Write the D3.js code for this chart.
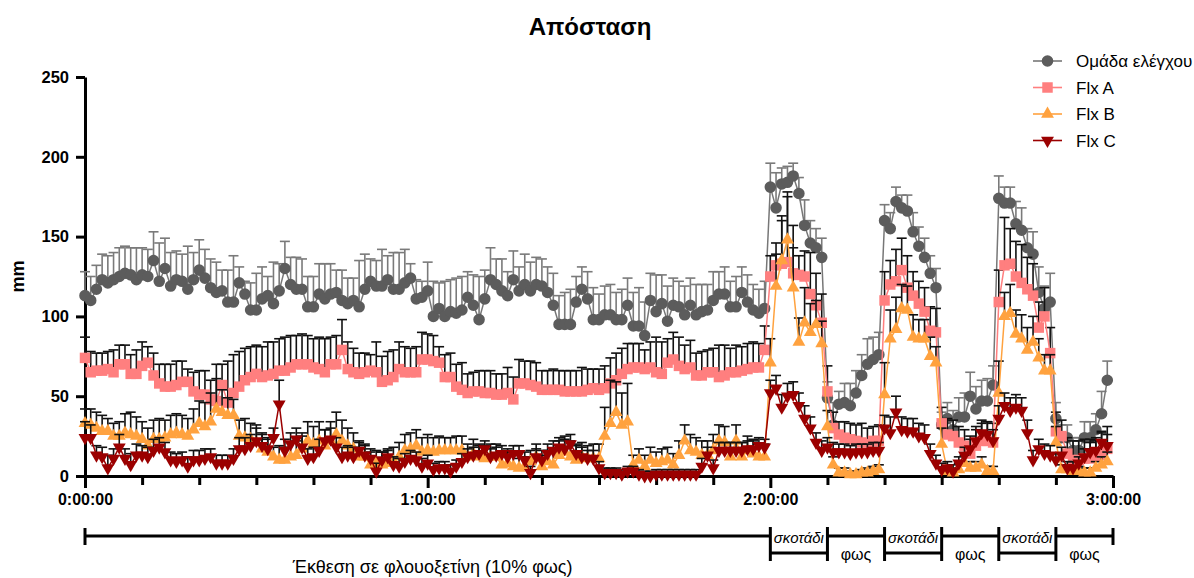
<!DOCTYPE html>
<html>
<head>
<meta charset="utf-8">
<script src="https://cdn.jsdelivr.net/npm/d3@7"></script>
<style>
  body { margin: 0; background: #fff; }
  svg { display: block; font-family: "Liberation Sans", Arial, Helvetica, sans-serif; }
</style>
</head>
<body>
<svg id="chart" width="1194" height="578"></svg>
<script>
// Απόσταση (mm) per minute, 0..179 min — one value per minute
const ctrlMean = [
  113,110,117,123,121,123,125,127,126,123, 126,125,135,122,130,119,123,122,117,123,
  129,124,118,115,116,109,109,121,114,104, 104,111,113,108,116,130,120,117,117,106,
  106,114,111,114,115,110,108,110,106,117, 122,119,119,123,117,117,121,124,111,112,
  116,100,105,100,103,102,104,112,107,98,  111,123,120,116,113,123,116,120,116,120,
  119,115,107,95,95,95,109,117,111,98,     98,101,101,98,98,107,94,94,88,110,
  103,108,97,107,106,101,107,101,103,104,  110,114,114,106,106,115,109,104,102,105,
  181,168,183,184,188,177,157,146,143,137, 49,32,45,46,44,52,63,70,73,76,
  160,155,172,168,166,153,144,137,127,118, 32,36,29,37,37,50,42,47,47,57,
  174,171,171,158,154,143,139,115,105,109, 36,24,24,16,16,24,24,29,39,60
];
const ctrlErr = [
  15,15,15,16,17,17,18,17,17,20, 17,17,18,24,19,21,18,17,27,17,
  19,18,18,19,13,20,29,10,8,17,  23,20,12,26,17,17,17,20,19,19,
  19,19,22,19,14,19,16,14,29,22, 14,16,23,15,23,23,21,9,12,10,
  18,22,16,22,20,22,21,16,19,27, 18,20,16,20,15,18,15,19,18,17,
  17,16,20,18,20,22,16,14,17,20, 16,18,19,17,19,17,21,24,21,17,
  23,18,22,17,16,18,17,19,17,16, 18,14,17,16,19,16,17,16,15,17,
  15,22,10,10,8,10,16,14,12,12,  10,14,8,12,14,14,13,16,14,14,
  10,10,9,8,10,12,12,12,11,12,   8,10,12,12,15,15,14,13,14,12,
  14,10,10,14,14,12,14,16,14,18, 10,8,8,8,8,10,10,10,14,12
];
const flxAMean = [
  74,65,66,66,67,65,70,70,64,64, 69,71,63,58,56,56,57,59,59,53,
  51,51,48,47,57,46,52,56,60,62, 64,62,63,64,66,66,68,70,70,70,
  68,67,65,70,70,79,67,65,64,65, 66,65,59,60,62,67,65,65,65,73,
  73,72,71,62,62,56,54,52,53,53, 52,52,51,51,52,48,58,58,57,56,
  54,54,54,54,53,53,53,53,54,55, 54,55,58,60,64,67,68,68,67,68,
  65,64,71,73,69,67,68,63,63,65, 65,62,63,65,65,66,67,68,68,79,
  125,132,133,134,127,126,125,114,107,96, 53,30,26,24,23,22,21,20,22,22,
  110,120,122,129,118,113,108,103,91,90,  33,26,25,21,19,14,19,22,22,21,
  109,132,133,125,121,117,113,93,100,77,  28,25,14,10,10,11,11,12,13,17
];
const flxAErr = [
  13,13,11,11,11,14,12,12,12,15, 15,10,14,12,14,14,15,13,8,12,
  15,15,12,23,13,26,24,22,20,19, 18,19,21,20,20,21,20,18,19,18,
  18,20,21,17,18,19,17,15,13,12, 10,19,16,18,17,17,16,15,16,17,
  16,16,10,14,15,14,17,12,12,13, 14,14,13,13,16,14,15,14,15,15,
  12,12,13,12,13,13,13,15,13,12, 13,14,16,17,16,16,15,15,12,16,
  22,20,15,17,18,15,17,14,15,14, 15,20,19,15,17,15,16,16,15,15,
  13,14,30,41,30,12,16,26,20,18, 16,10,8,10,10,10,12,10,9,10,
  18,15,20,20,20,15,14,15,15,15, 10,10,10,10,10,11,12,11,12,12,
  20,30,22,22,24,20,20,16,18,16, 12,10,10,12,12,12,12,12,14,14
];
const flxBMean = [
  33,32,30,28,28,25,25,27,26,25, 23,19,23,23,24,26,27,26,25,29,
  33,31,34,42,40,38,38,25,24,23, 21,17,15,12,10,10,12,13,17,22,
  20,22,19,22,26,22,19,17,12,12, 7,8,7,8,9,12,16,17,19,15,
  16,15,16,16,16,16,16,12,14,12, 11,12,12,7,8,6,5,6,9,12,
  6,9,7,13,15,12,10,12,11,11,    11,25,33,40,32,34,7,10,6,10,
  8,9,10,7,13,22,16,15,13,13,    16,22,21,12,22,12,16,14,12,12,
  71,119,135,148,118,84,96,90,95,83, 31,7,2,2,1,1,2,2,3,4,
  51,86,92,105,104,87,86,86,75,71,   20,3,2,4,8,5,5,7,3,3,
  52,100,102,89,86,79,84,74,66,66,   21,4,4,3,3,2,2,5,7,9
];
const flxBErr = [
  9,10,10,10,8,8,9,12,14,12,   11,11,12,13,11,12,12,12,11,13,
  14,15,18,19,14,11,10,10,12,10, 11,10,8,6,9,8,9,9,10,12,
  11,12,10,12,14,13,11,10,9,8,  8,8,8,8,9,9,10,10,10,9,
  10,9,9,8,8,9,9,8,9,8,         8,8,8,7,7,7,6,6,7,8,
  7,7,8,9,10,10,9,9,8,9,        9,18,27,19,20,24,6,7,7,8,
  7,8,8,7,9,10,10,9,9,9,        10,10,10,9,10,9,9,9,8,8,
  15,20,25,30,25,15,22,18,15,14, 10,5,3,3,2,2,2,3,3,3,
  20,18,20,15,15,14,12,12,12,10, 10,3,3,4,5,4,4,5,3,3,
  20,15,18,15,15,14,16,12,10,10, 10,3,3,3,3,3,3,4,5,6
];
const flxCMean = [
  24,24,13,12,5,11,18,11,7,13,  13,12,16,18,15,10,9,10,6,10,
  10,11,12,8,8,8,11,17,17,19,   22,19,17,24,45,16,20,23,18,11,
  12,16,22,23,18,12,13,12,16,13, 11,3,10,12,7,6,9,11,10,6,
  8,4,5,5,3,6,9,12,13,14,       17,12,13,14,12,14,14,10,2,12,
  10,14,16,18,17,20,14,12,11,11, 5,2,2,2,1,3,3,1,0,0,
  1,1,1,1,1,1,1,1,6,13,         5,16,16,16,16,16,17,17,19,18,
  52,55,43,50,51,44,36,30,21,16, 18,15,15,15,14,15,15,15,16,16,
  30,27,40,29,28,28,25,24,14,8,  4,5,3,8,13,17,22,27,26,22,
  36,44,41,43,41,27,10,17,14,13, 10,13,5,5,8,12,15,16,21,19
];
const flxCErr = [
  10,8,6,6,8,6,8,6,7,7, 6,6,7,6,6,5,5,5,6,6,
  6,6,5,5,5,5,6,7,7,7,  8,7,7,6,15,7,7,7,7,6,
  6,7,7,7,6,6,6,6,6,6,  6,5,5,5,5,5,5,5,5,5,
  5,4,4,4,4,4,5,5,5,5,  5,5,5,5,5,5,5,5,4,5,
  6,6,6,6,6,6,6,6,5,5,  4,3,3,3,3,3,3,3,3,3,
  3,3,3,3,3,3,3,3,5,5,  5,5,5,5,5,5,5,5,5,5,
  8,8,8,8,8,8,8,7,6,6,  6,6,5,5,5,5,5,5,5,5,
  8,10,10,8,8,8,8,8,6,5, 4,4,4,4,5,6,7,8,8,7,
  8,8,8,8,8,8,6,6,6,6,  4,5,4,4,4,5,6,6,7,7
];

const seriesNames = ["Ομάδα ελέγχου", "Flx A", "Flx B", "Flx C"];
const yTicks = [0, 50, 100, 150, 200, 250];
const xMinorTicks = [10, 20, 30, 40, 50, 70, 80, 90, 100, 110, 130, 140, 150, 160, 170];
const xMajorTicks = [0, 60, 120, 180];
const xMajorLabels = ["0:00:00", "1:00:00", "2:00:00", "3:00:00"];
const phaseBounds = [120, 130, 140, 150, 160, 170, 180];
const phaseLabels = ["σκοτάδι", "φως", "σκοτάδι", "φως", "σκοτάδι", "φως"];
const exposureLabel = "Έκθεση σε φλουοξετίνη (10% φως)";

const svg = d3.select("#chart");
const margin = {top: 77, right: 81, bottom: 102, left: 85};
const width = 1194, height = 578;

const x = d3.scaleLinear().domain([0, 180]).range([margin.left, width - margin.right]);
const y = d3.scaleLinear().domain([0, 250]).range([height - margin.bottom, margin.top]);

const series = [
  {name: seriesNames[0], mean: ctrlMean, err: ctrlErr, color: "#5c5c5c", line: "#777", bar: "#7a7a7a", sym: d3.symbolCircle, size: 105, rot: 0},
  {name: seriesNames[1], mean: flxAMean, err: flxAErr, color: "#ff7f7f", line: "#ff7f7f", bar: "#111", sym: d3.symbolSquare, size: 110, rot: 0},
  {name: seriesNames[2], mean: flxBMean, err: flxBErr, color: "#ffa23f", line: "#ffa23f", bar: "#111", sym: d3.symbolTriangle, size: 72, rot: 0},
  {name: seriesNames[3], mean: flxCMean, err: flxCErr, color: "#9b0000", line: "#9b0000", bar: "#111", sym: d3.symbolTriangle, size: 72, rot: 180}
];

// title
svg.append("text")
  .attr("x", 590).attr("y", 35)
  .attr("text-anchor", "middle")
  .attr("font-size", 24).attr("font-weight", "bold")
  .text("Απόσταση");

// y axis
const yAxis = svg.append("g")
  .attr("transform", `translate(${margin.left},0)`)
  .call(d3.axisLeft(y).tickValues(yTicks).tickSize(9).tickSizeOuter(0).tickPadding(7));
yAxis.select(".domain").attr("stroke-width", 3).attr("stroke", "#000");
yAxis.selectAll(".tick line").attr("stroke-width", 3);
yAxis.selectAll(".tick text").attr("font-size", 16.5).attr("font-weight", "bold")
  .attr("font-family", "Liberation Sans, Arial, sans-serif").attr("fill", "#000");

svg.append("text")
  .attr("transform", `translate(24,${(y(0) + y(250)) / 2}) rotate(-90)`)
  .attr("text-anchor", "middle")
  .attr("font-size", 18).attr("font-weight", "bold")
  .text("mm");

// x axis: minor ticks every 10 min, labelled majors every hour
const xMinor = svg.append("g")
  .attr("transform", `translate(0,${y(0)})`)
  .call(d3.axisBottom(x).tickValues(xMinorTicks).tickSize(9).tickSizeOuter(0).tickFormat(""));
xMinor.selectAll(".tick line").attr("stroke-width", 3);
xMinor.select(".domain").remove();

const xMajor = svg.append("g")
  .attr("transform", `translate(0,${y(0)})`)
  .call(d3.axisBottom(x).tickValues(xMajorTicks).tickSize(12).tickSizeOuter(0).tickPadding(6)
    .tickFormat((d, i) => xMajorLabels[i]));
xMajor.select(".domain").attr("stroke-width", 3).attr("stroke", "#000");
xMajor.selectAll(".tick line").attr("stroke-width", 3);
xMajor.selectAll(".tick text").attr("font-size", 16).attr("font-weight", "bold")
  .attr("font-family", "Liberation Sans, Arial, sans-serif").attr("fill", "#000");

// series: error bars, line, markers
const plot = svg.append("g");
series.forEach(s => {
  const g = plot.append("g");
  const pts = s.mean.map((v, i) => ({t: i, v: v, e: s.err[i]}));

  g.selectAll("line.eb")
    .data(pts)
    .join("line")
    .attr("x1", d => x(d.t)).attr("x2", d => x(d.t))
    .attr("y1", d => y(d.v)).attr("y2", d => y(d.v + d.e))
    .attr("stroke", s.bar).attr("stroke-width", 1.6);
  g.selectAll("line.cap")
    .data(pts)
    .join("line")
    .attr("x1", d => x(d.t) - 5).attr("x2", d => x(d.t) + 5)
    .attr("y1", d => y(d.v + d.e)).attr("y2", d => y(d.v + d.e))
    .attr("stroke", s.bar).attr("stroke-width", 1.6);

  g.append("path")
    .datum(pts)
    .attr("fill", "none")
    .attr("stroke", s.line)
    .attr("stroke-width", 1.5)
    .attr("d", d3.line().x(d => x(d.t)).y(d => y(d.v)));

  g.selectAll("path.mk")
    .data(pts)
    .join("path")
    .attr("transform", d => `translate(${x(d.t)},${y(d.v)}) rotate(${s.rot})`)
    .attr("d", d3.symbol().type(s.sym).size(s.size))
    .attr("fill", s.color);
});

// legend
const legend = svg.append("g");
series.forEach((s, i) => {
  const ly = 61 + i * 26.5;
  legend.append("line")
    .attr("x1", 1033).attr("x2", 1062).attr("y1", ly).attr("y2", ly)
    .attr("stroke", s.line).attr("stroke-width", 1.6);
  legend.append("path")
    .attr("transform", `translate(1047.5,${ly}) rotate(${s.rot})`)
    .attr("d", d3.symbol().type(s.sym).size(s.size))
    .attr("fill", s.color);
  legend.append("text")
    .attr("x", 1076).attr("y", ly + 6)
    .attr("font-size", 17)
    .text(s.name);
});

// exposure / light-phase annotation under the x axis
const ann = svg.append("g").attr("stroke", "#000").attr("stroke-width", 3);
const lineY = 536, darkY = 553, capTop = 527, capBot = 561;
ann.append("line").attr("x1", x(0)).attr("x2", x(120)).attr("y1", lineY).attr("y2", lineY);
ann.append("line").attr("x1", x(0)).attr("x2", x(0)).attr("y1", capTop + 1).attr("y2", lineY + 9);
phaseLabels.forEach((lab, i) => {
  const a = x(phaseBounds[i]), b = x(phaseBounds[i + 1]);
  const dark = lab === "σκοτάδι";
  if (dark) {
    ann.append("line").attr("x1", a).attr("x2", b).attr("y1", darkY).attr("y2", darkY);
    ann.append("line").attr("x1", a).attr("x2", a).attr("y1", capTop).attr("y2", capBot);
    ann.append("line").attr("x1", b).attr("x2", b).attr("y1", capTop).attr("y2", capBot);
  } else {
    ann.append("line").attr("x1", a).attr("x2", b).attr("y1", lineY).attr("y2", lineY);
  }
  svg.append("text")
    .attr("x", (a + b) / 2)
    .attr("y", dark ? 543 : 560)
    .attr("text-anchor", "middle")
    .attr("font-size", dark ? 15 : 16)
    .attr("font-style", dark ? "italic" : "normal")
    .text(lab);
});
ann.append("line").attr("x1", x(180)).attr("x2", x(180)).attr("y1", capTop + 1).attr("y2", lineY + 9);

svg.append("text")
  .attr("x", (x(0) + x(120)) / 2 + 5)
  .attr("y", 573)
  .attr("text-anchor", "middle")
  .attr("font-size", 18)
  .text(exposureLabel);
</script>
</body>
</html>
